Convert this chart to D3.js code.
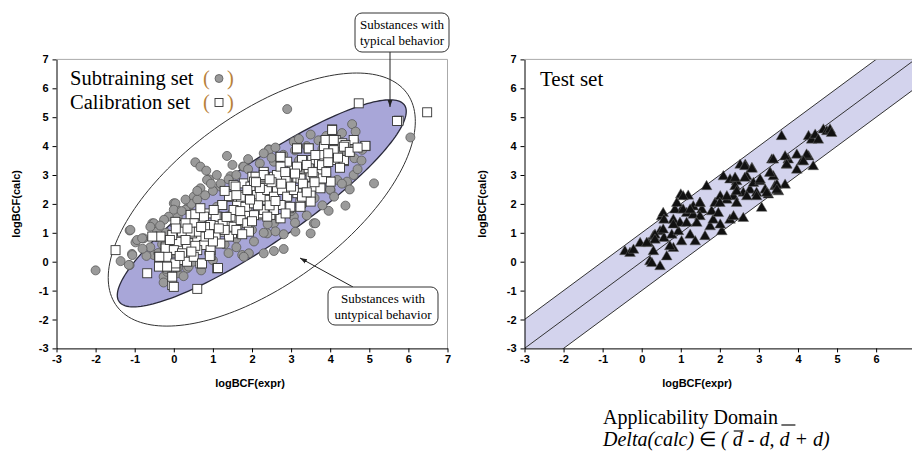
<!DOCTYPE html>
<html lang="en">
<head>
<meta charset="UTF-8">
<title>logBCF applicability domain</title>
<script src="https://d3js.org/d3.v7.min.js"></script>
<style>
  body { margin: 0; background: #fff; }
  text { font-family: "Liberation Sans", Arial, sans-serif; }
  .serif { font-family: "Liberation Serif", "Times New Roman", serif; }
  .tick text { font-size: 11px; font-weight: bold; fill: #000; }
  .axis-title { font-size: 11px; font-weight: bold; }
</style>
</head>
<body>
<svg id="chart" width="912" height="452"></svg>
<script>
// tick labels (both panels share them)
const xTicks = [-3, -2, -1, 0, 1, 2, 3, 4, 5, 6, 7];
const yTicks = [-3, -2, -1, 0, 1, 2, 3, 4, 5, 6, 7];

// left panel: subtraining set (grey circles), [logBCF(expr), logBCF(calc)]
const subtraining = [
  [-2.0,-0.3],[-1.13,1.08],[-0.98,0.67],[-0.77,0.81],[-1.36,0.02],[-1.13,-0.12],[-1.07,0.27],[-0.55,1.33],
  [-0.43,1.04],[0.55,3.44],[0.68,3.29],[0.83,3.15],[0.90,2.85],[1.36,3.66],[1.77,3.29],[2.90,5.28],
  [2.43,3.89],[4.56,4.76],[4.65,4.50],[4.62,4.19],[4.62,3.58],[4.43,2.71],[5.12,2.71],[6.05,4.30],
  [4.39,1.94],[3.96,1.76],[3.58,1.33],[3.50,0.98],[3.11,1.04],[2.81,0.95],[2.56,0.37],[2.81,0.44],
  [2.39,0.98],[1.75,0.23],[1.92,0.29],[-0.26,-0.52],[-0.26,-0.72],[-0.17,-0.35],[0.34,-0.23],[0.0,2.02],
  [0.09,1.79],[0.51,2.25],[0.68,2.54],[1.19,2.60],[1.45,2.96],[0.38,1.90],[-0.13,1.56],[0.85,2.83],
  [0.04,2.02],[-0.51,1.33],[-0.60,1.21],[-1.11,1.10],[-0.94,0.75],[-0.81,0.81],[-1.06,0.23],[-1.15,-0.11],
  [-0.51,0.23],[0.38,-0.17],[1.79,0.17],[2.30,0.29],[4.82,3.87],[4.39,3.69],[4.43,2.77],[3.62,1.33],
  [2.43,3.87],[3.16,4.21],[3.07,4.15],[2.56,3.46],[1.79,3.29],[4.18,2.83],[4.01,2.48],[3.07,1.56],
  [2.56,1.33],[0.1,1.55],[0.3,1.8],[0.45,2.0],[0.6,2.15],[0.8,2.3],[1.0,2.45],[1.2,2.7],
  [1.4,2.85],[1.6,3.0],[1.9,3.2],[2.2,3.4],[2.5,3.6],[2.8,3.7],[3.1,3.85],[3.4,4.0],
  [3.7,4.2],[0.5,0.0],[0.9,0.3],[1.3,0.6],[1.6,0.8],[2.0,1.1],[2.4,1.3],[2.7,1.5],
  [3.0,1.75],[3.3,2.0],[3.6,2.2],[4.0,2.5],[4.3,2.7],[4.6,3.0],[4.8,3.5],[-0.3,0.6],
  [-0.2,1.0],[0.2,0.9],[0.5,1.1],[0.7,0.7],[1.0,1.0],[1.2,1.4],[1.5,1.7],[1.8,1.9],
  [2.1,2.1],[2.4,2.4],[2.7,2.6],[3.0,2.9],[3.3,3.1],[3.6,3.3],[3.9,3.5],[4.2,3.8],
  [0.0,0.3],[-0.4,0.3],[-0.6,0.5],[-0.3,-0.1],[0.1,-0.4],[0.2,0.5],[0.6,1.5],[1.1,1.9],
  [1.5,2.3],[2.0,2.6],[2.3,2.8],[3.2,3.5],[3.8,3.9],[4.1,4.1],[1.7,1.3],[2.2,1.6],
  [2.9,2.2],[3.4,2.5],[3.9,3.0],[-0.45,0.85],[-0.7,0.2],[-0.8,0.45],[-0.2,-0.25],[0.1,-0.2],
  [0.25,-0.5],[0.7,-0.3],[1.0,0.05],[1.4,0.3],[1.6,0.5],[2.05,0.7],[2.3,1.0],[2.6,1.05],
  [3.1,1.35],[3.4,1.6],[3.8,1.95],[4.1,2.25],[4.5,2.5],[4.7,3.2],[4.5,4.05],[4.3,4.45],
  [3.9,4.35],[3.5,4.4],[3.2,4.25],[2.6,3.95],[2.3,3.75],[1.9,3.55],[1.5,3.35],[1.1,3.0],
  [0.95,2.7],[0.6,2.45],[0.3,2.15],[0.0,1.8],[-0.25,1.45],[-0.35,1.25],[0.2,1.75]
];

// left panel: calibration set (white squares)
const calibration = [
  [-1.49,0.40],[-0.68,-0.40],[-0.04,-0.81],[0.60,-0.94],[1.11,-0.23],[0.94,0.23],[0.68,-0.06],[-0.34,0.87],
  [-0.21,0.52],[-0.38,0.17],[-0.17,0.12],[-0.04,0.40],[0.04,-0.17],[0.21,0.06],[0.34,0.29],[0.17,0.58],
  [0.43,0.64],[0.60,0.81],[0.77,0.58],[0.47,0.98],[0.13,0.98],[0.26,1.27],[0.04,1.38],[0.43,1.62],
  [0.68,1.33],[0.85,1.04],[1.07,1.27],[1.11,1.56],[1.37,1.33],[1.28,1.04],[1.49,0.98],[1.24,1.96],
  [1.45,2.25],[1.62,1.90],[1.83,1.67],[1.88,2.14],[2.01,2.48],[1.53,2.65],[1.79,2.71],[2.01,2.94],
  [2.30,3.06],[2.30,2.37],[2.22,1.79],[1.62,1.44],[0.85,1.67],[-0.55,0.87],[4.73,5.48],[5.75,4.88],
  [4.05,4.58],[3.92,4.21],[4.14,4.21],[4.31,4.10],[4.60,4.21],[4.90,4.00],[4.39,4.04],[3.84,3.98],
  [3.45,3.92],[3.16,3.92],[2.73,3.63],[3.03,3.23],[3.28,3.52],[3.54,3.52],[3.80,3.69],[4.09,3.58],
  [4.35,3.48],[3.71,3.40],[3.71,3.11],[3.50,2.94],[3.71,2.83],[3.37,2.60],[3.16,2.89],[2.90,2.83],
  [2.56,2.94],[2.30,3.11],[2.09,2.94],[1.96,2.60],[2.30,2.60],[2.64,2.48],[2.90,2.31],[3.16,2.37],
  [3.50,2.31],[3.75,2.60],[3.24,2.02],[2.94,1.85],[2.64,1.96],[2.39,2.14],[2.13,2.31],[1.79,2.31],
  [1.62,2.02],[1.88,1.90],[2.17,1.67],[2.47,1.62],[2.73,1.50],[0.55,1.64],[0.77,1.56],[1.07,1.56],
  [0.94,1.27],[1.25,1.30],[1.53,1.21],[1.71,1.44],[1.88,1.33],[1.92,1.04],[2.05,1.61],[2.30,1.79],
  [1.45,1.56],[1.53,1.79],[1.83,1.90],[2.05,2.02],[1.71,2.25],[1.49,2.25],[1.24,1.96],[1.02,1.79],
  [0.68,1.85],[0.51,1.33],[0.30,1.33],[0.21,1.04],[0.43,1.04],[0.64,1.04],[0.81,0.87],[1.07,0.92],
  [1.41,0.87],[1.19,0.63],[0.94,0.40],[0.60,0.40],[0.34,0.52],[0.09,0.69],[-0.04,0.92],[-0.21,0.46],
  [0.00,0.40],[0.21,0.29],[-0.17,0.17],[0.04,-0.06],[0.34,0.00],[0.51,0.17],[0.72,-0.06],[-0.37,0.17],
  [-0.38,-0.17],[-0.17,-0.17],[-0.04,-0.52],[0.00,-0.87],[0.92,0.20],[1.13,-0.22],[2.22,2.25],[2.39,2.48],
  [2.56,2.25],[2.77,2.48],[2.90,2.25],[3.07,2.48],[3.28,2.25],[3.50,2.08],[2.98,1.90],[2.73,1.96],
  [2.56,1.79],[2.39,1.56],[2.86,1.67],[3.24,1.90],[3.54,2.60],[3.75,2.54],[4.01,2.77],[3.79,2.88],
  [3.58,2.94],[3.24,2.88],[2.86,2.88],[2.64,3.00],[2.30,3.00],[2.05,2.77],[1.88,2.48],[1.58,2.60],
  [1.41,2.27],[3.15,3.92],[3.45,3.92],[3.62,3.69],[3.88,4.21],[4.09,4.21],[4.05,4.56],[4.90,4.01],
  [4.35,3.98],[4.09,3.86],[3.79,3.34],[3.45,3.23],[3.15,3.29],[2.90,3.46],[2.73,3.63],[2.73,3.29],
  [4.09,3.52],[4.35,3.52],[5.71,4.87],[6.48,5.17],[0.3,0.75],[0.55,0.55],[0.8,1.2],[1.0,0.7],
  [1.3,1.1],[1.6,1.1],[1.75,0.95],[2.0,1.4],[2.15,1.95],[2.45,1.95],[2.6,2.1],[2.75,2.7],
  [3.0,2.6],[3.3,2.7],[3.4,2.4],[3.6,2.75],[3.9,3.1],[3.95,3.45],[4.2,3.6],[4.5,3.8],
  [4.7,3.95],[2.5,2.75],[2.2,2.55],[1.95,2.15],[1.7,1.75],[1.35,1.55],[1.15,1.15],[0.9,0.95],
  [0.7,1.2],[0.45,0.35],[0.15,0.2],[-0.1,0.75],[0.05,1.15],[0.35,1.15],[2.85,3.1],[3.1,3.05],
  [3.4,3.35],[3.55,3.1],[3.95,3.75],[4.25,3.25],[1.3,2.45],[1.6,2.3],[2.1,2.75],[2.45,2.85]
];

// right panel: test set (black triangles)
const testSet = [
  [-0.43,0.35],[-0.30,0.29],[-0.21,0.40],[-0.04,0.63],[0.17,0.63],[0.30,0.87],[0.47,1.04],[0.51,1.56],
  [0.55,1.67],[0.57,1.44],[0.21,0.00],[0.26,-0.06],[0.47,-0.17],[0.30,0.35],[0.64,0.17],[0.81,0.46],
  [0.57,0.81],[0.77,0.92],[0.94,1.04],[1.02,1.79],[1.15,1.67],[1.00,2.31],[1.19,2.27],[0.85,1.79],
  [0.81,1.44],[0.98,1.33],[1.02,0.69],[1.24,0.92],[1.37,0.69],[1.32,1.61],[1.32,1.90],[1.49,2.02],
  [1.54,1.79],[1.66,2.60],[1.62,0.87],[1.75,1.21],[1.79,1.73],[1.88,2.02],[1.83,1.44],[2.01,2.25],
  [2.09,2.94],[2.05,1.04],[2.01,1.27],[1.96,1.67],[2.18,2.13],[2.26,1.44],[2.35,1.56],[2.35,2.25],
  [2.26,2.83],[2.43,2.77],[2.52,3.34],[2.65,3.34],[2.39,2.60],[2.43,2.02],[2.60,1.50],[2.60,2.37],
  [2.69,2.94],[2.82,3.23],[2.77,2.48],[2.86,2.71],[2.94,2.37],[3.03,2.77],[3.07,1.85],[3.16,2.48],
  [3.24,2.31],[3.29,3.06],[3.33,3.52],[3.37,2.94],[3.41,2.60],[3.50,2.42],[3.58,4.33],[3.67,2.65],
  [3.75,3.52],[3.71,3.34],[3.97,3.69],[3.97,3.17],[4.10,3.46],[4.27,3.63],[4.39,3.29],[4.27,4.33],
  [4.35,4.21],[4.44,4.38],[4.65,4.56],[4.74,4.50],[4.82,4.56],[4.86,4.44],[4.52,4.21],[3.67,3.63],
  [1.49,1.56],[0.55,1.10],[0.81,1.27],[1.06,1.79],[0.90,2.02],[1.15,1.33],[1.41,1.33],[0.34,0.92],
  [0.34,0.75],[0.72,0.52],[0.13,0.64],[4.22,3.69],[4.14,3.46],[3.37,3.52],[3.71,3.35],[3.28,3.06],
  [3.46,2.65],[2.64,3.29],[2.82,3.20],[2.39,2.89],[2.64,2.89],[3.03,2.83],[3.46,2.48],[3.20,2.37],
  [2.94,2.25],[2.69,2.25],[2.43,2.42],[2.18,2.25],[2.00,2.02],[1.49,2.02],[1.06,2.25],[1.24,1.79]
];

// band offsets on the right panel: y = x + offset
const bandOffsets = [-1, 0, 1];

// ellipses on the left panel, in data units: centre x, centre y, semi-axes, tilt (deg)
const typicalEllipse = [2.25, 2.02, 5.0, 1.22, 44];
const outerEllipse = [2.25, 2.15, 5.3, 2.55, 50];

const svg = d3.select("#chart");
svg.append("rect").attr("width", 912).attr("height", 452).attr("fill", "#fff");

const yScale = d3.scaleLinear().domain([-3, 7]).range([348.4, 59.4]);
const xLeft = d3.scaleLinear().domain([-3, 7]).range([56.5, 447.5]);
const xRight = d3.scaleLinear().domain([-3, 7]).range([524.5, 915.2]);

// arrow head
svg.append("defs").append("marker")
    .attr("id", "arrow")
    .attr("viewBox", "0 0 10 10")
    .attr("refX", 10).attr("refY", 5)
    .attr("markerWidth", 7).attr("markerHeight", 7)
    .attr("orient", "auto")
  .append("path")
    .attr("d", "M0,1.5 L10,5 L0,8.5 Z")
    .attr("fill", "#222");

svg.select("defs").append("clipPath").attr("id", "clipRight")
  .append("rect")
    .attr("x", xRight(-3)).attr("y", yScale(7))
    .attr("width", xRight(7) - xRight(-3)).attr("height", yScale(-3) - yScale(7));

function drawAxes(x, xTitleX, yTitleX) {
    const g = svg.append("g");
    // light frame on top and right
    g.append("line")
        .attr("x1", x(-3)).attr("x2", x(7)).attr("y1", yScale(7)).attr("y2", yScale(7))
        .attr("stroke", "#aaa");
    g.append("line")
        .attr("x1", x(7)).attr("x2", x(7)).attr("y1", yScale(7)).attr("y2", yScale(-3))
        .attr("stroke", "#aaa");

    // only ticks that land inside the picture (the right panel runs off the edge)
    const shown = xTicks.filter(d => x(d) <= 905);
    g.append("g")
        .attr("transform", `translate(0,${yScale(-3)})`)
        .call(d3.axisBottom(x).tickValues(shown).tickSize(4).tickSizeOuter(0)
            .tickPadding(3).tickFormat(d => String(d)));
    g.append("g")
        .attr("transform", `translate(${x(-3)},0)`)
        .call(d3.axisLeft(yScale).tickValues(yTicks).tickSize(4).tickSizeOuter(0)
            .tickPadding(4).tickFormat(d => String(d)));

    g.append("text")
        .attr("class", "axis-title")
        .attr("x", xTitleX).attr("y", 387)
        .attr("text-anchor", "middle")
        .text("logBCF(expr)");
    g.append("text")
        .attr("class", "axis-title")
        .attr("transform", `translate(${yTitleX},${(yScale(7) + yScale(-3)) / 2}) rotate(-90)`)
        .attr("text-anchor", "middle")
        .text("logBCF(calc)");
}

function ellipsePath(e, x) {
    const [cx, cy, ra, rb, tilt] = e;
    const a = tilt * Math.PI / 180;
    const pts = d3.range(0, 360, 2).map(deg => {
        const t = deg * Math.PI / 180;
        const u = ra * Math.cos(t), v = rb * Math.sin(t);
        return [cx + u * Math.cos(a) - v * Math.sin(a), cy + u * Math.sin(a) + v * Math.cos(a)];
    });
    return d3.line().x(p => x(p[0])).y(p => yScale(p[1])).curve(d3.curveLinearClosed)(pts);
}

// ---------- left panel ----------
drawAxes(xLeft, 250, 20);

svg.append("path")
    .attr("d", ellipsePath(outerEllipse, xLeft))
    .attr("fill", "none")
    .attr("stroke", "#333")
    .attr("stroke-width", 1);

svg.append("path")
    .attr("d", ellipsePath(typicalEllipse, xLeft))
    .attr("fill", "#a8a6d8")
    .attr("stroke", "#2a2a3a")
    .attr("stroke-width", 1.3);

svg.append("g").selectAll("circle")
    .data(subtraining)
    .join("circle")
    .attr("cx", d => xLeft(d[0]))
    .attr("cy", d => yScale(d[1]))
    .attr("r", 4.5)
    .attr("fill", "#9a9a9a")
    .attr("stroke", "#5a5a5a")
    .attr("stroke-width", 0.8);

svg.append("g").selectAll("rect")
    .data(calibration)
    .join("rect")
    .attr("x", d => xLeft(d[0]) - 4.5)
    .attr("y", d => yScale(d[1]) - 4.5)
    .attr("width", 9).attr("height", 9)
    .attr("fill", "#fff")
    .attr("stroke", "#333")
    .attr("stroke-width", 0.9);

// legend
const legend = svg.append("g").style("font-size", "20.5px");
legend.append("text").attr("class", "serif").attr("x", 70).attr("y", 85).text("Subtraining set");
legend.append("text").attr("class", "serif").attr("x", 70).attr("y", 109).text("Calibration set");
[85, 109].forEach(yb => {
    legend.append("text").attr("class", "serif").attr("x", 203).attr("y", yb).attr("fill", "#b8813a").text("(");
    legend.append("text").attr("class", "serif").attr("x", 227).attr("y", yb).attr("fill", "#b8813a").text(")");
});
legend.append("circle").attr("cx", 219).attr("cy", 78.5).attr("r", 4)
    .attr("fill", "#9a9a9a").attr("stroke", "#5a5a5a").attr("stroke-width", 0.8);
legend.append("rect").attr("x", 215).attr("y", 98.5).attr("width", 8).attr("height", 8)
    .attr("fill", "#fff").attr("stroke", "#333").attr("stroke-width", 0.9);

// callouts
function callout(x, y, w, h, lines, arrowFrom, arrowTo) {
    const g = svg.append("g");
    g.append("line")
        .attr("x1", arrowFrom[0]).attr("y1", arrowFrom[1])
        .attr("x2", arrowTo[0]).attr("y2", arrowTo[1])
        .attr("stroke", "#222").attr("stroke-width", 1)
        .attr("marker-end", "url(#arrow)");
    g.append("rect")
        .attr("x", x).attr("y", y).attr("width", w).attr("height", h)
        .attr("rx", 7)
        .attr("fill", "#fff").attr("stroke", "#333").attr("stroke-width", 1);
    lines.forEach((t, i) => {
        g.append("text")
            .attr("class", "serif")
            .attr("x", x + w / 2).attr("y", y + 16 + i * 16)
            .attr("text-anchor", "middle")
            .style("font-size", "13px")
            .text(t);
    });
}
callout(355, 13, 94, 39, ["Substances with", "typical behavior"], [390, 52], [390, 107]);
callout(328, 287, 110, 38, ["Substances with", "untypical behavior"], [353, 287], [300, 258]);

// ---------- right panel ----------
const band = svg.append("g").attr("clip-path", "url(#clipRight)");
const lo = d3.min(bandOffsets), hi = d3.max(bandOffsets);
band.append("path")
    .attr("d", d3.line().x(p => xRight(p[0])).y(p => yScale(p[1]))([
        [-3, -3 + hi], [7, 7 + hi], [7, 7 + lo], [-3, -3 + lo]
    ]) + "Z")
    .attr("fill", "#d3d3ed");
bandOffsets.forEach(o => {
    band.append("line")
        .attr("x1", xRight(-3)).attr("y1", yScale(-3 + o))
        .attr("x2", xRight(7)).attr("y2", yScale(7 + o))
        .attr("stroke", "#333").attr("stroke-width", 1);
});

drawAxes(xRight, 697, 486);

svg.append("g").selectAll("path")
    .data(testSet)
    .join("path")
    .attr("transform", d => `translate(${xRight(d[0])},${yScale(d[1])})`)
    .attr("d", d3.symbol(d3.symbolTriangle, 50))
    .attr("fill", "#111")
    .attr("stroke", "#666")
    .attr("stroke-width", 0.5);

svg.append("text")
    .attr("class", "serif")
    .attr("x", 540).attr("y", 86)
    .style("font-size", "21px")
    .text("Test set");

// ---------- caption under the right panel ----------
svg.append("text")
    .attr("class", "serif")
    .attr("x", 603).attr("y", 424)
    .style("font-size", "20px")
    .text("Applicability Domain");

const cap = svg.append("text")
    .attr("class", "serif")
    .attr("x", 603).attr("y", 446)
    .style("font-size", "20px")
    .style("font-style", "italic");
cap.append("tspan").text("Delta(calc) ");
cap.append("tspan").style("font-style", "normal").text("\u2208");
cap.append("tspan").text(" ( d - d, d + d)");

// overlines on the two mean-d symbols
const capNode = cap.node();
const full = capNode.textContent;
const firstD = full.indexOf("d", full.indexOf("(", 12));
const secondD = full.indexOf("d", full.indexOf(","));
const e1 = capNode.getExtentOfChar(firstD);
const e2 = capNode.getExtentOfChar(secondD);
svg.append("line")
    .attr("x1", e1.x + 1).attr("x2", e1.x + e1.width + 1)
    .attr("y1", 431).attr("y2", 431)
    .attr("stroke", "#111").attr("stroke-width", 1.2);
svg.append("line")
    .attr("x1", e2.x + 2).attr("x2", e2.x + e2.width + 6)
    .attr("y1", 425).attr("y2", 425)
    .attr("stroke", "#111").attr("stroke-width", 1.2);
</script>
</body>
</html>
